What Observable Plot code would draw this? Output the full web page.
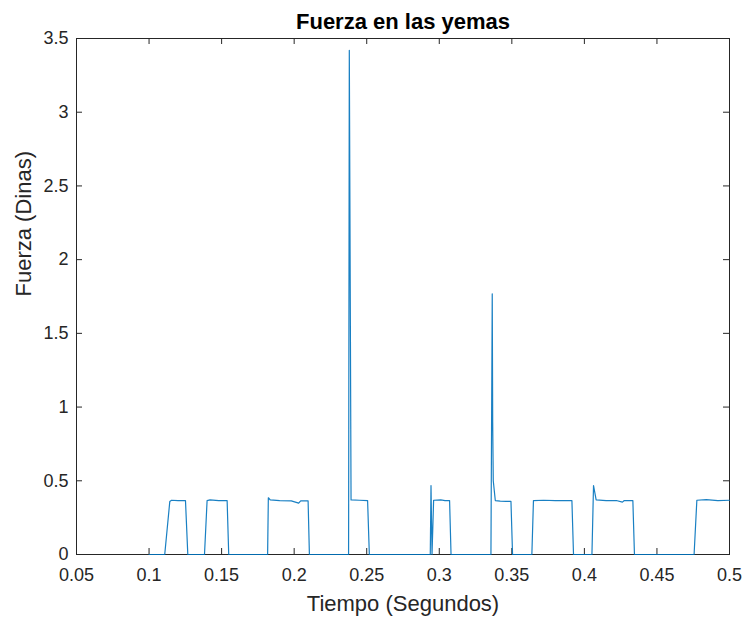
<!DOCTYPE html>
<html>
<head>
<meta charset="utf-8">
<script src="https://cdn.jsdelivr.net/npm/d3@7"></script>
<script src="https://cdn.jsdelivr.net/npm/@observablehq/plot@0.6"></script>
<style>
  html, body { margin: 0; padding: 0; background: #ffffff; }
  #chart { width: 744px; height: 624px; }
</style>
</head>
<body>
<div id="chart"></div>
<script>
// Time (s) and force (dinas) samples
const tiempo = [
  0.1000, 0.1108, 0.1143, 0.1155, 0.1200, 0.1251, 0.1267,
  0.1382, 0.1400, 0.1420, 0.1480, 0.1538, 0.1549,
  0.1817, 0.1822, 0.1835, 0.1900, 0.1980, 0.2031, 0.2045, 0.2096, 0.2105,
  0.2375, 0.2380, 0.2392, 0.2450, 0.2506, 0.2518,
  0.2938, 0.2943, 0.2950, 0.2961, 0.3010, 0.3040, 0.3071, 0.3081,
  0.3356, 0.3365, 0.3368, 0.3372, 0.3386, 0.3420, 0.3460, 0.3494, 0.3505,
  0.3638, 0.3649, 0.3720, 0.3800, 0.3914, 0.3925,
  0.4052, 0.4063, 0.4081, 0.4150, 0.4220, 0.4262, 0.4275, 0.4334, 0.4345,
  0.4756, 0.4775, 0.4840, 0.4920, 0.5000
];
const fuerza = [
  0, 0, 0.360, 0.368, 0.366, 0.366, 0,
  0, 0.366, 0.370, 0.366, 0.366, 0,
  0, 0.385, 0.370, 0.366, 0.364, 0.348, 0.364, 0.364, 0,
  0, 3.42, 0.370, 0.368, 0.366, 0,
  0, 0.468, 0, 0.368, 0.370, 0.366, 0.366, 0,
  0, 1.768, 0.900, 0.500, 0.366, 0.362, 0.360, 0.360, 0,
  0, 0.366, 0.368, 0.366, 0.366, 0,
  0, 0.468, 0.370, 0.366, 0.366, 0.355, 0.366, 0.366, 0,
  0, 0.368, 0.372, 0.366, 0.368
];

const xTicks = [0.05, 0.1, 0.15, 0.2, 0.25, 0.3, 0.35, 0.4, 0.45, 0.5];
const xTickLabels = ["0.05", "0.1", "0.15", "0.2", "0.25", "0.3", "0.35", "0.4", "0.45", "0.5"];
const yTicks = [0, 0.5, 1, 1.5, 2, 2.5, 3, 3.5];
const yTickLabels = ["0", "0.5", "1", "1.5", "2", "2.5", "3", "3.5"];

const titulo = "Fuerza en las yemas";
const etiquetaX = "Tiempo (Segundos)";
const etiquetaY = "Fuerza (Dinas)";

const datos = tiempo.map((t, i) => ({t, f: fuerza[i]}));

const axisColor = "#262626";
const font = "'Liberation Sans', Arial, Helvetica, sans-serif";

const chart = Plot.plot({
  width: 744,
  height: 624,
  marginLeft: 76,
  marginRight: 15,
  marginTop: 38,
  marginBottom: 70,
  x: {domain: [0.05, 0.5], axis: null},
  y: {domain: [0, 3.5], axis: null},
  style: {fontFamily: font, background: "#ffffff", color: axisColor},
  marks: [
    Plot.frame({stroke: axisColor, strokeWidth: 1}),
    // inward ticks, bottom & top
    Plot.ruleX(xTicks, {stroke: axisColor, insetTop: 510}),
    Plot.ruleX(xTicks, {stroke: axisColor, insetBottom: 510}),
    // inward ticks, left & right
    Plot.ruleY(yTicks, {stroke: axisColor, insetRight: 647}),
    Plot.ruleY(yTicks, {stroke: axisColor, insetLeft: 647}),
    Plot.line(datos, {x: "t", y: "f", stroke: "#0072BD", strokeWidth: 1.2, strokeOpacity: 0.9}),
    // tick labels
    Plot.text(xTicks, {x: d => d, text: (d, i) => xTickLabels[i], frameAnchor: "bottom", lineAnchor: "top", dy: 14, fontSize: 18, fill: axisColor}),
    Plot.text(yTicks, {y: d => d, text: (d, i) => yTickLabels[i], frameAnchor: "left", textAnchor: "end", dx: -8, fontSize: 18, fill: axisColor}),
    // axis labels and title
    Plot.text([etiquetaX], {text: d => d, frameAnchor: "bottom", lineAnchor: "top", dy: 41, fontSize: 22, fill: axisColor}),
    Plot.text([etiquetaY], {text: d => d, frameAnchor: "left", rotate: -90, lineAnchor: "bottom", dx: -46, fontSize: 22, fill: axisColor}),
    Plot.text([titulo], {text: d => d, frameAnchor: "top", lineAnchor: "bottom", dy: -10, fontSize: 22, fontWeight: "bold", fill: "#000000"})
  ]
});

document.getElementById("chart").appendChild(chart);
</script>
</body>
</html>
